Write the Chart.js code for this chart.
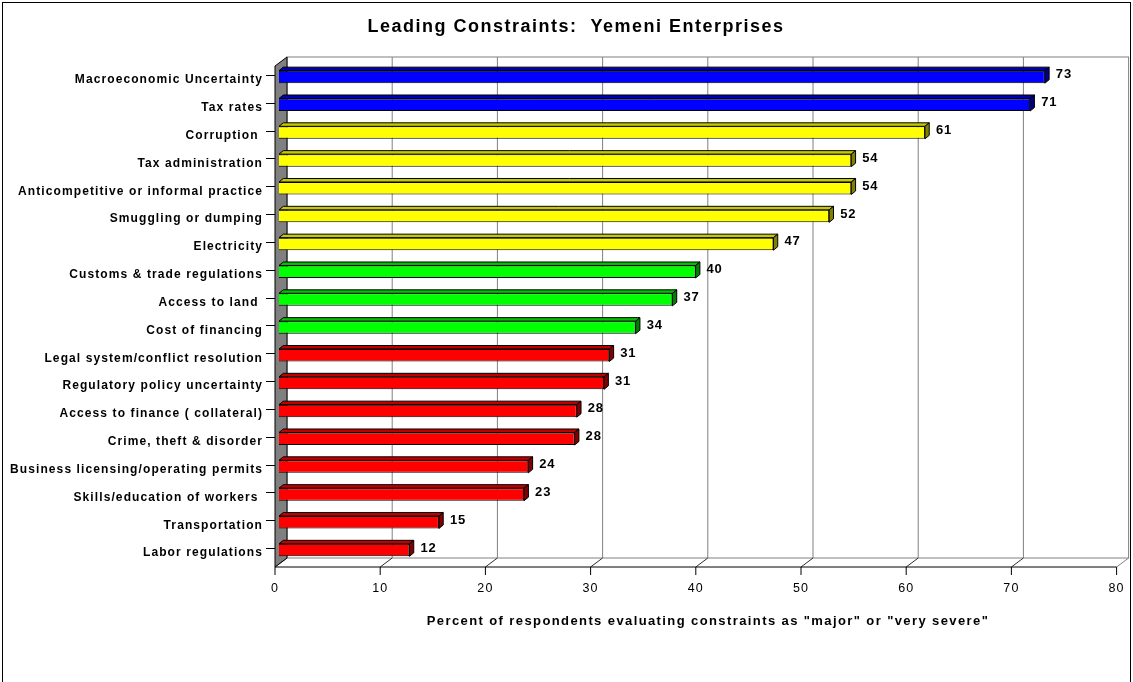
<!DOCTYPE html>
<html>
<head>
<meta charset="utf-8">
<title>Leading Constraints: Yemeni Enterprises</title>
<script src="https://cdn.jsdelivr.net/npm/chart.js"></script>
<style>
  html, body { margin: 0; padding: 0; background: #fff; }
  canvas { display: block; }
</style>
</head>
<body>
<canvas id="chart" width="1133" height="682"></canvas>
<script>
// Datos
const categories = [
    'Macroeconomic Uncertainty',
    'Tax rates',
    'Corruption ',
    'Tax administration',
    'Anticompetitive or informal practice',
    'Smuggling or dumping',
    'Electricity',
    'Customs & trade regulations',
    'Access to land ',
    'Cost of financing',
    'Legal system/conflict resolution',
    'Regulatory policy uncertainty',
    'Access to finance ( collateral)',
    'Crime, theft & disorder',
    'Business licensing/operating permits',
    'Skills/education of workers ',
    'Transportation',
    'Labor regulations'
];
const values = [72.8, 71.4, 61.4, 54.4, 54.4, 52.3, 47.0, 39.6, 37.4, 33.9, 31.4, 30.9, 28.3, 28.1, 23.7, 23.3, 15.2, 12.4];
const valueLabels = ['73', '71', '61', '54', '54', '52', '47', '40', '37', '34', '31', '31', '28', '28', '24', '23', '15', '12'];
const xTickValues = [0, 10, 20, 30, 40, 50, 60, 70, 80];
const chartTitle = 'Leading Constraints:  Yemeni Enterprises';
const xAxisTitle = 'Percent of respondents evaluating constraints as "major" or "very severe"';

// Colores por grupo (cara, techo, lateral)
const palette = {
    blue:   ['#0000FF', '#0000B0', '#000080'],
    yellow: ['#FFFF00', '#C8C800', '#808000'],
    green:  ['#00FF00', '#00C000', '#008000'],
    red:    ['#FF0000', '#C00000', '#800000']
};
const rowColors = ['blue', 'blue', 'yellow', 'yellow', 'yellow', 'yellow', 'yellow',
    'green', 'green', 'green', 'red', 'red', 'red', 'red', 'red', 'red', 'red', 'red'];

const FONT = 'Arial, "Liberation Sans", sans-serif';
const FRONT = { dx: -4, dy: 3 };     // plano frontal respecto al plano de las barras
const BACK = { dx: 8, dy: -6 };      // pared del fondo
const BAR_DEPTH = { dx: 4.3, dy: -3.5 };

function line(ctx, x1, y1, x2, y2, color, width) {
    ctx.beginPath();
    ctx.moveTo(x1, y1);
    ctx.lineTo(x2, y2);
    ctx.strokeStyle = color;
    ctx.lineWidth = width || 1;
    ctx.stroke();
}

const frame3d = {
    id: 'frame3d',
    beforeDraw(chart) {
        const ctx = chart.ctx;
        const area = chart.chartArea;
        const xs = chart.scales.x;
        const ys = chart.scales.y;

        ctx.save();
        ctx.fillStyle = '#fff';
        ctx.fillRect(0, 0, chart.width, chart.height);
        // borde exterior
        ctx.strokeStyle = '#000';
        ctx.lineWidth = 1;
        ctx.strokeRect(2.5, 2.5, 1128, 700);

        const fTop = area.top + FRONT.dy, fBot = area.bottom + FRONT.dy;
        const bTop = area.top + BACK.dy, bBot = area.bottom + BACK.dy;
        const fx = v => xs.getPixelForValue(v) + FRONT.dx;
        const bx = v => xs.getPixelForValue(v) + BACK.dx;

        // pared del fondo
        ctx.strokeStyle = '#808080';
        ctx.strokeRect(bx(0), bTop, bx(80) - bx(0), bBot - bTop);
        xTickValues.forEach(v => {
            if (v > 0 && v < 80) line(ctx, bx(v), bTop, bx(v), bBot, '#808080');
        });

        // suelo: diagonales y eje frontal
        xTickValues.forEach(v => {
            line(ctx, fx(v), fBot, bx(v), bBot, v === 80 ? '#808080' : '#303030');
            line(ctx, fx(v), fBot, fx(v), fBot + 8, '#000');
        });
        line(ctx, fx(0), fBot, fx(80), fBot, '#000');

        // pared izquierda
        ctx.beginPath();
        ctx.moveTo(fx(0), fTop);
        ctx.lineTo(bx(0), bTop);
        ctx.lineTo(bx(0), bBot);
        ctx.lineTo(fx(0), fBot);
        ctx.closePath();
        ctx.fillStyle = '#808080';
        ctx.fill();
        ctx.strokeStyle = '#000';
        ctx.stroke();

        // marcas de categorías
        categories.forEach((c, i) => {
            const y = Math.round(ys.getPixelForValue(i) - 2) + 0.5;
            line(ctx, fx(0) - 9, y, fx(0), y, '#000');
        });
        ctx.restore();
        ctx.letterSpacing = '1.1px';
    },
    afterDatasetsDraw(chart) {
        const ctx = chart.ctx;
        const meta = chart.getDatasetMeta(0);
        ctx.save();
        meta.data.forEach((bar, i) => {
            const cols = palette[rowColors[i]];
            const top = bar.y - bar.height / 2;
            const bot = bar.y + bar.height / 2;
            const x0 = bar.base, x1 = bar.x;
            const dx = BAR_DEPTH.dx, dy = BAR_DEPTH.dy;
            ctx.lineWidth = 1;
            ctx.strokeStyle = '#000';
            // techo
            ctx.beginPath();
            ctx.moveTo(x0, top);
            ctx.lineTo(x0 + dx, top + dy);
            ctx.lineTo(x1 + dx, top + dy);
            ctx.lineTo(x1, top);
            ctx.closePath();
            ctx.fillStyle = cols[1];
            ctx.fill();
            ctx.stroke();
            // lateral
            ctx.beginPath();
            ctx.moveTo(x1, top);
            ctx.lineTo(x1 + dx, top + dy);
            ctx.lineTo(x1 + dx, bot + dy);
            ctx.lineTo(x1, bot);
            ctx.closePath();
            ctx.fillStyle = cols[2];
            ctx.fill();
            ctx.stroke();

            // etiqueta de valor
            ctx.fillStyle = '#000';
            ctx.letterSpacing = '0.8px';
            ctx.font = 'bold 13px ' + FONT;
            ctx.textAlign = 'left';
            ctx.textBaseline = 'middle';
            ctx.fillText(valueLabels[i], x1 + 11, bar.y - 2);
        });
        ctx.restore();
    },
    afterDraw(chart) {
        const ctx = chart.ctx;
        ctx.save();
        ctx.fillStyle = '#000';
        ctx.textAlign = 'center';
        ctx.textBaseline = 'middle';
        ctx.letterSpacing = '1.5px';
        ctx.font = 'bold 18px ' + FONT;
        ctx.fillText(chartTitle, 576, 27);
        ctx.letterSpacing = '1.4px';
        ctx.font = 'bold 13px ' + FONT;
        ctx.fillText(xAxisTitle, 708, 621);
        ctx.restore();
        ctx.letterSpacing = '0px';
    }
};

const ctx = document.getElementById('chart').getContext('2d');
new Chart(ctx, {
    type: 'bar',
    data: {
        labels: categories,
        datasets: [{
            data: values,
            backgroundColor: rowColors.map(c => palette[c][0]),
            borderColor: '#000',
            borderWidth: 1,
            barPercentage: 0.45,
            categoryPercentage: 1
        }]
    },
    options: {
        indexAxis: 'y',
        responsive: false,
        animation: false,
        devicePixelRatio: 1,
        layout: { padding: { left: 0, top: 63, right: 12.4, bottom: 78 } },
        plugins: {
            legend: { display: false },
            title: { display: false },
            tooltip: { enabled: false }
        },
        scales: {
            x: {
                min: 0,
                max: 80,
                afterBuildTicks(scale) { scale.ticks = xTickValues.map(v => ({ value: v })); },
                afterFit(scale) {
                    scale.height = 40;
                    scale.paddingLeft = 0;
                    scale.paddingRight = 0;
                },
                grid: { display: false, drawTicks: false },
                border: { display: false },
                ticks: {
                    color: '#000',
                    font: { family: FONT, size: 12.5 },
                    padding: 17,
                    labelOffset: -4,
                    maxRotation: 0
                }
            },
            y: {
                afterFit(scale) {
                    scale.width = 279;
                    scale.paddingTop = 0;
                    scale.paddingBottom = 0;
                },
                grid: { display: false, drawTicks: false },
                border: { display: false },
                ticks: {
                    color: '#000',
                    font: { family: FONT, size: 12, weight: 'bold' },
                    padding: 16,
                    labelOffset: 3,
                    autoSkip: false
                }
            }
        }
    },
    plugins: [frame3d]
});
</script>
</body>
</html>
